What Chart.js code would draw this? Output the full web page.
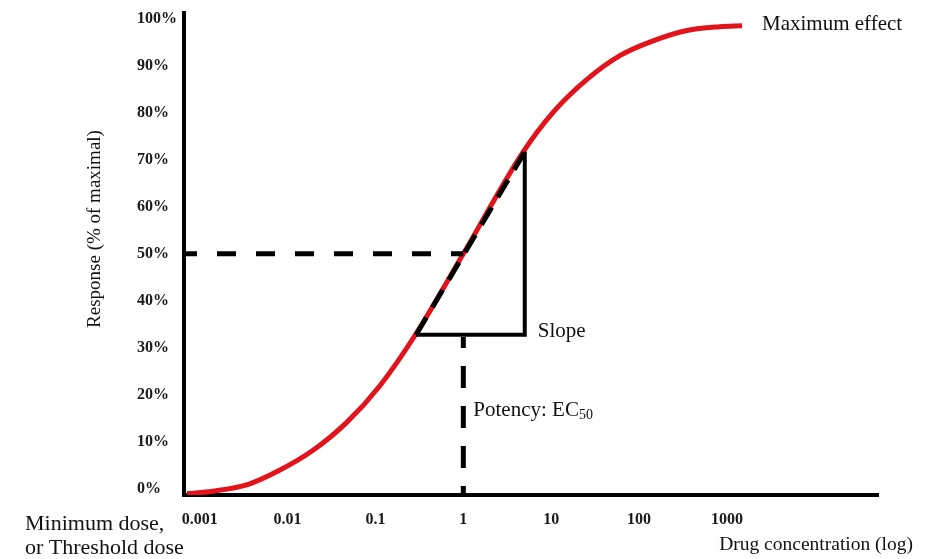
<!DOCTYPE html>
<html>
<head>
<meta charset="utf-8">
<style>
  html, body { margin: 0; padding: 0; background: #fff; }
  #wrap { width: 938px; height: 559px; position: relative; }
</style>
</head>
<body>
<div id="wrap"><canvas id="doseChart"></canvas></div>
<script src="https://cdn.jsdelivr.net/npm/chart.js"></script>
<script>
// dose-response curve
const concentrations = [0.00072, 0.0014, 0.0035, 0.0082, 0.0195, 0.0475, 0.113, 0.29, 1, 4.8, 10.5, 25.5, 61, 144, 350, 830, 1480];
const responses = [-1.0, -0.5, 0.9, 4.0, 8.2, 14.2, 22.0, 33.0, 50, 71.7, 80.1, 87.1, 92.2, 95.3, 97.5, 98.3, 98.5];

const xTicks = [0.001, 0.01, 0.1, 1, 10, 100, 1000];
const yTicks = [0, 10, 20, 30, 40, 50, 60, 70, 80, 90, 100];

const xMin = 0.000664, xMax = 52200;
const yMin = -1.3, yMax = 101.3;

// guide lines
const ec50 = 1;
const halfX = [xMin, ec50], halfY = [50, 50];
const dropX = [ec50, ec50], dropY = [32.3, yMin];
const slopeX = [0.29, 5.0], slopeY = [32.8, 71.7];
const triX = [0.29, 5.0, 5.0], triY = [32.8, 32.8, 71.7];

const pts = (xs, ys) => xs.map((x, i) => ({ x: x, y: ys[i] }));
const serif = "'Liberation Serif', 'Times New Roman', serif";

const textPlugin = {
  id: 'labels',
  afterDraw(chart) {
    const { ctx, scales: { x, y } } = chart;
    ctx.save();
    ctx.fillStyle = '#111';
    ctx.textBaseline = 'middle';
    ctx.textAlign = 'left';

    const lastX = x.getPixelForValue(concentrations[concentrations.length - 1]);
    const lastY = y.getPixelForValue(responses[responses.length - 1]);
    ctx.font = '21px ' + serif;
    ctx.fillText('Maximum effect', lastX + 20, lastY - 1);

    ctx.fillText('Slope', x.getPixelForValue(triX[1]) + 13, y.getPixelForValue(triY[0]) - 3);

    const px = x.getPixelForValue(ec50) + 10, py = 410;
    ctx.font = '21px ' + serif;
    ctx.fillText('Potency: EC', px, py);
    const w = ctx.measureText('Potency: EC').width;
    ctx.font = '14px ' + serif;
    ctx.fillText('50', px + w, py + 5);

    ctx.font = '22px ' + serif;
    ctx.fillText('Minimum dose,', 25, 524);
    ctx.fillText('or Threshold dose', 25, 548);

    ctx.font = '19.5px ' + serif;
    ctx.textAlign = 'right';
    ctx.fillText('Drug concentration (log)', 913, 545);

    ctx.translate(95, 229);
    ctx.rotate(-Math.PI / 2);
    ctx.textAlign = 'center';
    ctx.font = '19px ' + serif;
    ctx.fillText('Response (% of maximal)', 0, 0);
    ctx.restore();
  }
};

new Chart(document.getElementById('doseChart'), {
  type: 'line',
  data: {
    datasets: [
      { data: pts(concentrations, responses), borderColor: '#e3131b', borderWidth: 5, pointRadius: 0, cubicInterpolationMode: 'monotone', order: 3 },
      { data: pts(halfX, halfY), borderColor: '#000', borderWidth: 5, borderDash: [19, 20], borderDashOffset: 6, pointRadius: 0, order: 1 },
      { data: pts(dropX, dropY), borderColor: '#000', borderWidth: 5, borderDash: [22, 18], borderDashOffset: 11, pointRadius: 0, order: 1 },
      { data: pts(slopeX, slopeY), borderColor: '#000', borderWidth: 5, borderDash: [20, 12], pointRadius: 0, order: 1 },
      { data: pts(triX, triY), borderColor: '#000', borderWidth: 4, pointRadius: 0, order: 1 }
    ]
  },
  options: {
    responsive: true,
    maintainAspectRatio: false,
    animation: false,
    layout: { padding: { left: 137, top: 10, right: 60, bottom: 0 } },
    plugins: { legend: { display: false }, tooltip: { enabled: false } },
    scales: {
      x: {
        type: 'logarithmic',
        min: xMin,
        max: xMax,
        afterBuildTicks: s => { s.ticks = xTicks.map(v => ({ value: v })); },
        afterFit: s => { s.height = 64; },
        grid: { display: false, drawTicks: false },
        border: { display: true, color: '#000', width: 4 },
        ticks: {
          autoSkip: false, maxRotation: 0, padding: 15, color: '#1a1a1a',
          font: { family: serif, size: 16, weight: 'bold' },
          callback: v => String(v)
        }
      },
      y: {
        type: 'linear',
        min: yMin,
        max: yMax,
        afterBuildTicks: s => { s.ticks = yTicks.map(v => ({ value: v })); },
        afterFit: s => { s.width = 47; },
        grid: { display: false, drawTicks: false },
        border: { display: true, color: '#000', width: 4 },
        ticks: {
          crossAlign: 'far', color: '#1a1a1a',
          font: { family: serif, size: 16, weight: 'bold' },
          callback: v => v + '%'
        }
      }
    }
  },
  plugins: [textPlugin]
});
</script>
</body>
</html>
